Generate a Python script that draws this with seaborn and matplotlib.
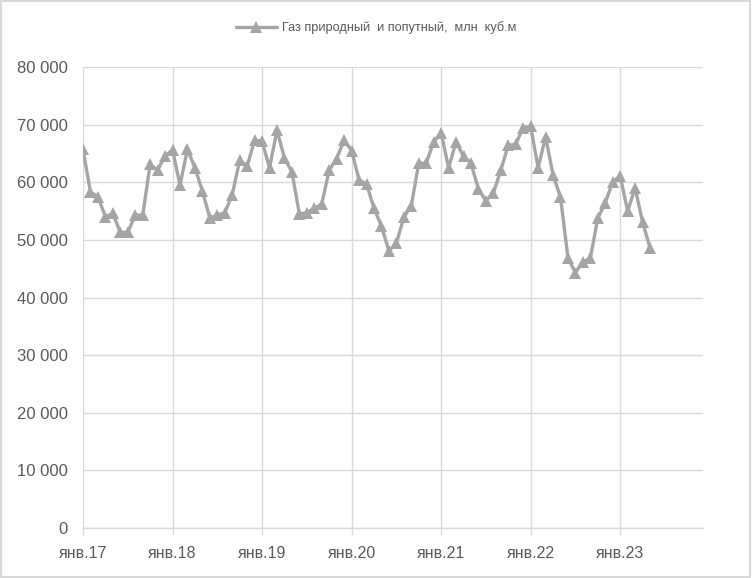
import matplotlib
matplotlib.use("Agg")
import matplotlib.pyplot as plt
import seaborn as sns
import pandas as pd
from matplotlib.patches import Rectangle
from matplotlib.ticker import FuncFormatter

# Data: monthly production, Jan 2017 .. May 2023
values = [
    65700, 58300, 57500, 54000, 54600, 51300, 51300, 54300, 54300, 63100, 62100, 64600,  # 2017
    65600, 59500, 65700, 62500, 58500, 53800, 54300, 54700, 57800, 63800, 62800, 67300,  # 2018
    67100, 62500, 69000, 64200, 61800, 54500, 54700, 55500, 56200, 62100, 64100, 67300,  # 2019
    65500, 60400, 59700, 55500, 52400, 48100, 49400, 53900, 55900, 63300, 63300, 67000,  # 2020
    68600, 62500, 67000, 64500, 63300, 58800, 56800, 58100, 62100, 66400, 66600, 69500,  # 2021
    69700, 62500, 67900, 61300, 57400, 46900, 44300, 46200, 46800, 53800, 56400, 60100,  # 2022
    61100, 55000, 59000, 53100, 48600,                                                   # 2023
]
tick_labels = ["янв.17", "янв.18", "янв.19", "янв.20", "янв.21", "янв.22", "янв.23"]
series_name = "Газ природный  и попутный,  млн  куб.м"

months = list(range(len(values)))
df = pd.DataFrame({"month": months, "value": values, "series": series_name})

sns.set_theme(style="white")
plt.rcParams["font.family"] = ["Liberation Sans", "DejaVu Sans"]

fig = plt.figure(figsize=(7.52, 5.78), dpi=100)
ax = fig.add_axes([83 / 752, 1 - 528 / 578, (703 - 83) / 752, (528 - 67) / 578])

sns.lineplot(data=df, x="month", y="value", hue="series", palette=["#a5a5a5"],
             marker="^", markersize=8, markeredgewidth=0, linewidth=2.4, ax=ax, legend=True)

ax.set_xlim(0, 83.1)
ax.set_ylim(0, 80000)
ax.set_yticks(range(0, 80001, 10000))
ax.yaxis.set_major_formatter(FuncFormatter(lambda v, p: f"{int(v):,}".replace(",", " ")))
ax.set_xticks([12 * i for i in range(len(tick_labels))])
ax.set_xticklabels(tick_labels)
ax.set_xlabel("")
ax.set_ylabel("")

grid_c = "#d9d9d9"
ax.grid(True, axis="both", color=grid_c, linewidth=1.0)
ax.set_axisbelow(True)
for s in ["left", "right", "top"]:
    ax.spines[s].set_visible(False)
ax.spines["bottom"].set_color(grid_c)
ax.spines["bottom"].set_linewidth(1.0)
ax.tick_params(axis="x", which="both", bottom=True, length=5, color=grid_c, width=1.0,
               labelsize=11.5, labelcolor="#595959", pad=8)
ax.tick_params(axis="y", left=False, labelsize=12, labelcolor="#595959", pad=5)

ax.get_legend().remove()
h, l = ax.get_legend_handles_labels()
fig.legend(h, l, loc="center", bbox_to_anchor=(0.5, 1 - 28 / 578), frameon=False,
           fontsize=9.2, labelcolor="#595959", handlelength=3.2, handletextpad=0.4)

fig.patches.append(Rectangle((0.001, 0.002), 0.997, 0.996, transform=fig.transFigure,
                             fill=False, edgecolor="#d9d9d9", linewidth=1.5))

fig.savefig("out.png", dpi=100)
